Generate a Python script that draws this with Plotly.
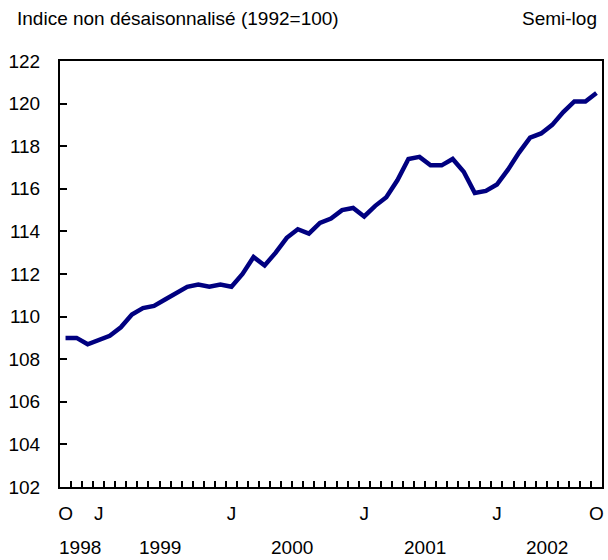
import plotly.graph_objects as go

# Monthly index values, Oct 1998 .. Oct 2002
months = ["O", "N", "D",
          "J", "F", "M", "A", "M", "J", "J", "A", "S", "O", "N", "D",
          "J", "F", "M", "A", "M", "J", "J", "A", "S", "O", "N", "D",
          "J", "F", "M", "A", "M", "J", "J", "A", "S", "O", "N", "D",
          "J", "F", "M", "A", "M", "J", "J", "A", "S", "O"]
years = [1998] * 3 + [1999] * 12 + [2000] * 12 + [2001] * 12 + [2002] * 10
values = [109.0, 109.0, 108.7,
          108.9, 109.1, 109.5, 110.1, 110.4, 110.5, 110.8, 111.1, 111.4, 111.5, 111.4, 111.5,
          111.4, 112.0, 112.8, 112.4, 113.0, 113.7, 114.1, 113.9, 114.4, 114.6, 115.0, 115.1,
          114.7, 115.2, 115.6, 116.4, 117.4, 117.5, 117.1, 117.1, 117.4, 116.8, 115.8, 115.9,
          116.2, 116.9, 117.7, 118.4, 118.6, 119.0, 119.6, 120.1, 120.1, 120.5]
label_idx = [0, 3, 15, 27, 39, 48]
label_text = ["O", "J", "J", "J", "J", "O"]
year_labels = ["1998", "1999", "2000", "2001", "2002"]
y_ticks = list(range(102, 123, 2))

FONT = "Liberation Sans, Arial, sans-serif"
FS = 19
x = list(range(len(values)))

fig = go.Figure()
fig.add_trace(go.Scatter(x=x, y=values, mode="lines",
                         line=dict(color="#000080", width=4.5),
                         hoverinfo="skip", showlegend=False))

# year labels centered on each year's months
annotations = []
for yl in year_labels:
    idx = [i for i, yy in enumerate(years) if str(yy) == yl]
    cx = sum(idx) / len(idx)
    if yl == "1998":
        cx += 0.3
    annotations.append(dict(x=cx, y=-0.141, xref="x", yref="paper", text=yl,
                            showarrow=False, xanchor="center", yanchor="middle",
                            font=dict(size=FS, color="black", family=FONT)))
annotations.append(dict(x=-0.083, y=1.099, xref="paper", yref="paper",
                        text="Indice non désaisonnalisé (1992=100)", showarrow=False,
                        xanchor="left", yanchor="middle",
                        font=dict(size=FS, color="black", family=FONT)))
annotations.append(dict(x=0.995, y=1.099, xref="paper", yref="paper",
                        text="Semi-log", showarrow=False,
                        xanchor="right", yanchor="middle",
                        font=dict(size=FS, color="black", family=FONT)))

fig.update_layout(
    width=608, height=560,
    margin=dict(l=60, r=4, t=61, b=73),
    paper_bgcolor="white", plot_bgcolor="white",
    font=dict(family=FONT, size=FS, color="black"),
    annotations=annotations,
    xaxis=dict(range=[-0.5, len(values) - 0.5], tickmode="array",
               tickvals=label_idx, ticktext=label_text, ticks="",
               showgrid=False, zeroline=False,
               showline=True, linecolor="black", linewidth=2, mirror=True,
               ticklabelstandoff=8,
               minor=dict(tickmode="array",
                          tickvals=[i + 0.5 for i in range(len(values) - 1)],
                          ticks="inside", ticklen=6, tickwidth=1.5,
                          tickcolor="black", showgrid=False)),
    yaxis=dict(range=[102, 122], tickmode="array", tickvals=y_ticks,
               ticks="inside", ticklen=7, tickwidth=2, tickcolor="black",
               showgrid=False, zeroline=False,
               showline=True, linecolor="black", linewidth=2, mirror=True,
               ticklabelstandoff=14),
)

fig.write_html("out.html", config={"displayModeBar": False},
               post_script="document.body.style.margin='0';")
